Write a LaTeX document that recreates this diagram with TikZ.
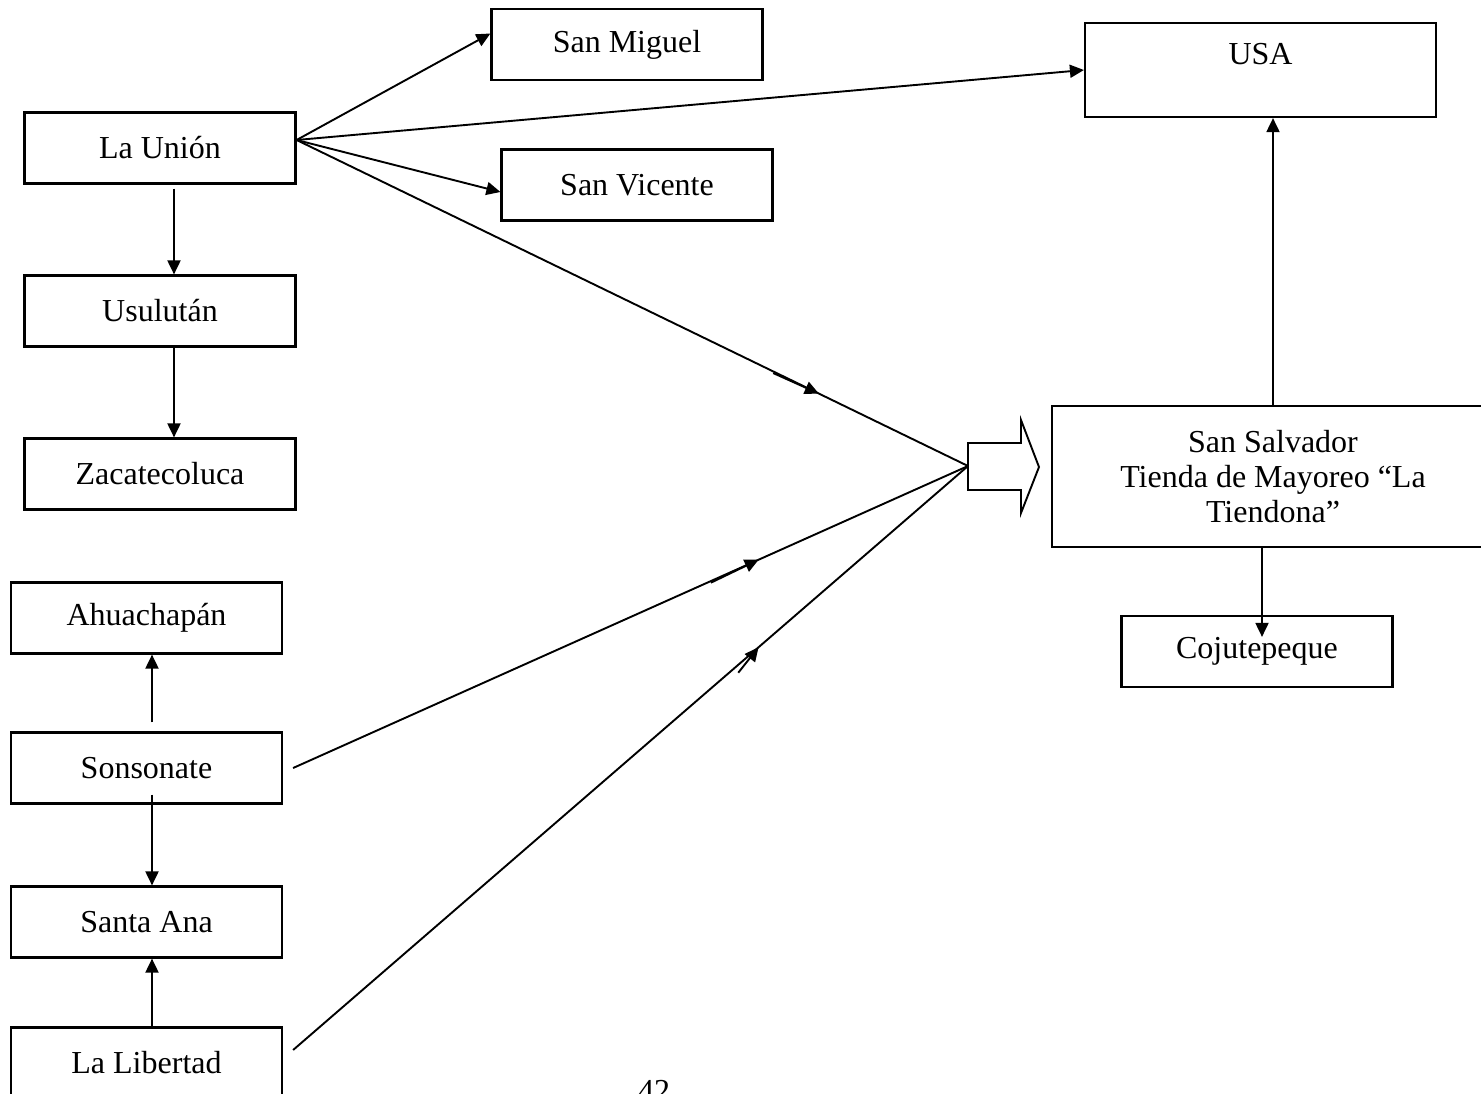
\documentclass[tikz,border=0pt]{standalone}
\usepackage{fontspec}
\setmainfont{Liberation Serif}
\usetikzlibrary{arrows.meta,decorations.markings}

\begin{document}
\begin{tikzpicture}[
    x=1pt, y=-1pt,
    >={Triangle[length=14pt,width=13pt]},
    place/.style={draw, line width=2.2pt, minimum width=271pt,
        minimum height=71pt, inner sep=0pt, align=center,
        font=\fontsize{32}{35}\selectfont},
    link/.style={->, line width=1.9pt},
    feed/.style={line width=1.9pt},
    midarrow/.style n args={3}{postaction={decorate},
        decoration={markings, mark=at position #1 with
            {\draw[->, line width=1.9pt] (-#2,#3) -- (0pt,0pt);}}},
]
\useasboundingbox (0,0) rectangle (1481,1093);
\clip (0,0) rectangle (1481,1093);

\node[place] (union) at (160,148) {La Unión};
\node[place] (usulutan) at (160,311) {Usulután};
\node[place] (zacate) at (160,474) {Zacatecoluca};

\node[place] (ahuacha) at (146.5,618) {Ahuachapán};
\node[place] (sonso) at (146.5,768) {Sonsonate};
\node[place] (santaana) at (146.5,922) {Santa Ana};
\node[place] (liber) at (146.5,1063) {La Libertad};

\node[place] (miguel) at (627,44.5) {San Miguel};
\node[place] (vicente) at (637,185) {San Vicente};
\node[place, anchor=base, minimum width=351pt, text height=41pt,
    text depth=53pt] (usa) at (1260.5,64) {USA};
\node[place, minimum width=442pt, minimum height=141pt] (salvador)
    at (1273,476.5) {San Salvador\\Tienda de Mayoreo “La\\Tiendona”};
\node[place] (cojute) at (1257,651.5) {Cojutepeque};

\node[font=\fontsize{32}{35}\selectfont, anchor=base] (pagenum)
    at (654,1101) {42};

% block arrow in front of San Salvador
\draw[line width=1.9pt] (968,443) -- (1021,443) -- (1021,420) -- (1039,467)
    -- (1021,513) -- (1021,490) -- (968,490) -- cycle;
\coordinate (hub) at (968,466);

\draw[link] ([yshift=8pt]union.east) -- ([yshift=11pt]miguel.west);
\draw[link] ([yshift=8pt]union.east) -- (usa.west);
\draw[link] ([yshift=8pt]union.east) -- ([yshift=-7pt]vicente.west);
\draw[feed, midarrow={0.778}{50pt}{-1.5pt}] ([yshift=8pt]union.east) -- (hub);
\draw[feed, midarrow={0.69}{53pt}{-1.5pt}] ([xshift=10pt]sonso.east) -- (hub);
\draw[feed, midarrow={0.69}{32pt}{-6pt}]
    ([xshift=10pt,yshift=13pt]liber.east) -- (hub);

\draw[link] ([xshift=14pt,yshift=-4pt]union.south) -- ([xshift=14pt]usulutan.north);
\draw[link] ([xshift=14pt]usulutan.south) -- ([xshift=14pt]zacate.north);
\draw[link] ([xshift=5.5pt,yshift=9pt]sonso.north) -- ([xshift=5.5pt]ahuacha.south);
\draw[link] ([xshift=5.5pt,yshift=10pt]sonso.south) -- ([xshift=5.5pt]santaana.north);
\draw[link] ([xshift=5.5pt]liber.north) -- ([xshift=5.5pt]santaana.south);

\draw[link] (salvador.north) -- (salvador.north |- usa.south);
\draw[link, shorten >=-22pt] ([xshift=-11pt]salvador.south)
    -- ([xshift=-11pt]salvador.south |- cojute.north);
\end{tikzpicture}
\end{document}
